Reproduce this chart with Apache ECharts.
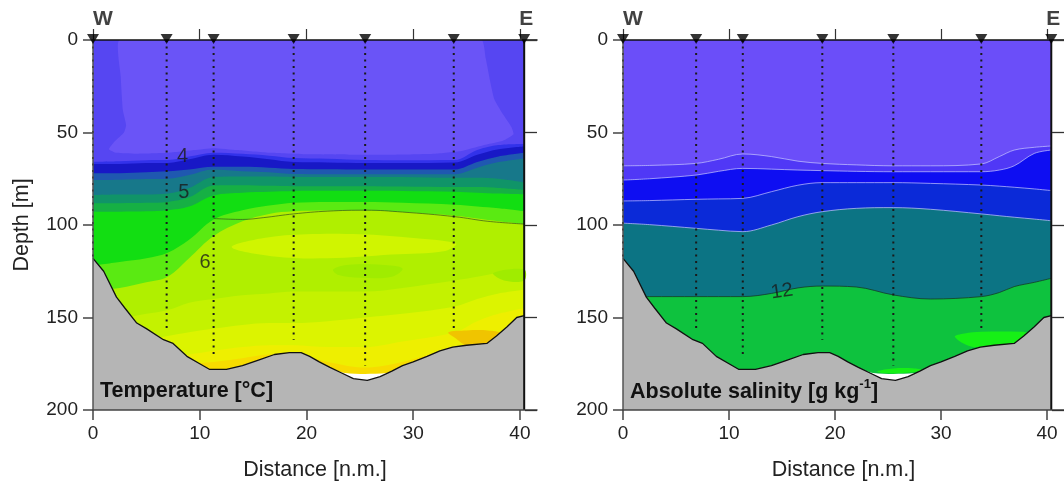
<!DOCTYPE html>
<html>
<head>
<meta charset="utf-8">
<script src="https://cdn.jsdelivr.net/npm/echarts@6/dist/echarts.min.js"></script>
<style>
  html, body { margin: 0; background: #fff; }
  #chart { width: 1064px; height: 486px; }
</style>
</head>
<body>
<div id="chart"></div>
<script>
// ---- data (distance in n.m., depth in m) ----
const stations = [0, 6.9, 11.3, 18.8, 25.5, 33.8, 40.4];
const stationLabels = ['W', '', '', '', '', '', 'E'];
const tempCastDepth = [118, 156, 170, 162, 176, 157, 200];
const salCastDepth = [118, 157, 170, 162, 176, 158, 200];

const bathyX = [0, 1, 2.2, 3, 4.1, 5, 6.6, 7.5, 8.8, 10, 10.9, 12.5, 14, 15.5, 17, 18.4, 19.5, 20.3, 21.2, 22.2, 23.3, 24.4, 25.7, 26.9, 28, 29, 30, 31.3, 32.5, 33.7, 35, 36.9, 37.8, 38.8, 39.7, 40.4];
const bathyD = [118, 125, 139, 145, 153, 156, 162, 164, 171, 175, 178, 178, 176, 173, 170, 169, 169, 171, 174, 177, 180, 183, 184, 182, 179, 176, 174, 171, 168, 166, 165, 164, 160, 155, 150, 149];

// bottom of the measured field (white gap above the seabed in the trough)
const floorX = [22.5, 23.6, 25.5, 27.5, 28.3];
const floorD = [178, 180, 180.5, 180, 179];

const surfaceX = [0, 40.4];
const surfaceD = [0, 0];

// temperature: isoline depths on a common distance grid, top to bottom
const tempX = [0, 2.5, 5, 7, 9, 11.3, 14, 16.5, 18.8, 22, 25.5, 29, 33.9, 36, 38, 40.4];
const tempEdges = [
  [65.8, 65.5, 65, 64.9, 63, 60.9, 61.5, 62.5, 63.8, 64.2, 64.9, 65, 64.9, 59.5, 56.8, 56.2],
  [67, 67, 66.5, 66.5, 64.5, 62, 63, 64.5, 66, 66.2, 66.5, 66.5, 66.2, 62, 59, 57.5],
  [72, 72, 71.5, 71, 70, 68.5, 68.5, 69, 69.7, 69.8, 70, 70, 70, 66, 63, 61],
  [75.7, 75.5, 75.2, 75, 73, 70, 71, 71.5, 72.4, 72.5, 72.6, 72.6, 72.5, 69, 66, 64],
  [83.8, 83.5, 83.5, 83, 80, 74, 73.8, 73.8, 74, 74, 74, 74, 74.5, 74.5, 75, 77],
  [88.3, 88.2, 88, 87.5, 85, 78.6, 78.5, 78.8, 79, 79, 79, 79.2, 79.5, 79.5, 80, 81],
  [92.8, 92.8, 92.6, 92, 90, 84, 82.5, 82, 81.6, 81.5, 81.5, 81.6, 82, 82.5, 83, 83.4],
  [122, 120, 118, 115, 108, 97, 92, 89.5, 88, 87.5, 87.5, 88, 89, 90, 91, 92.6],
  [135, 134, 131, 128, 118, 106, 98, 94, 92.6, 92.2, 92, 93, 95, 96.5, 98, 99.5],
  [150, 150, 148, 146, 142, 140, 138, 137, 136, 136, 136, 134, 130, 128, 126, 125],
  [163, 163, 162, 160, 158, 156, 154, 153, 153, 152, 150, 148, 144, 140, 137, 135],
  [172, 172, 172, 171, 170, 168, 166, 165, 165, 166, 166, 163, 158, 152, 148, 145],
  [178, 178, 177, 176, 175, 174, 172, 170, 170, 174, 177, 174, 166, 162, 158, 154]
];
const tempTopColor = '#5646f2';
const tempColors = ['#3232ea', '#1818c6', '#1f58b0', '#17788a', '#109468', '#16b044', '#12de12',
  '#5aea12', '#b0ef00', '#c4f200', '#dcf400', '#eeef00', '#f7dc00'];

// enclosed temperature patches
const tempBowl = [[2.5, 0], [20, 0], [36.4, 0], [36.8, 10], [37.2, 22], [37.6, 32], [38.4, 40], [39.2, 47], [39.4, 51], [38.4, 54.5], [36.5, 57], [34.5, 60], [32, 61.5], [28, 62], [24, 62], [20, 61.8], [16.5, 61], [13.5, 59.5], [11.3, 58.5], [9.5, 59.5], [7, 61], [4, 61.5], [2.2, 61], [1.5, 59], [2, 55], [2.9, 50], [3.1, 46], [2.8, 38], [2.6, 20]];
const tempYellowLens = [[13, 112], [16, 107], [20, 105], [25, 105], [30, 107], [34, 110], [33, 114], [28, 116], [22, 118], [17, 117]];
const tempLimeBlobA = [[22.5, 124], [24, 121.5], [27, 121.5], [29, 123.5], [28, 128], [25, 128.5], [23, 127]];
const tempLimeBlobB = [[37.5, 126], [40.4, 124], [40.4, 130], [38.5, 130]];
const tempWarmBlob = [[33.3, 158], [35, 157], [37, 157], [38.2, 158.5], [37.5, 162], [36.9, 164], [35, 165], [33.9, 161]];

const temp6X = [11.3, 14, 16, 18.8, 22, 25.6, 29, 33.9, 37, 40.4];
const temp6D = [96.5, 97, 96, 94, 92.5, 92, 93, 95.5, 98, 99.5];

const tempLabelX = [8.4, 8.5, 10.5];
const tempLabelD = [63.2, 82.2, 120];
const tempLabelText = ['4', '5', '6'];

// absolute salinity
const salX = [0, 2.5, 6.9, 9, 11.3, 14, 16.5, 18.8, 22, 25.5, 29, 33.8, 35.5, 36.9, 38.8, 40.4];
const salEdges = [
  [68, 67.8, 66.7, 64.5, 61.6, 63, 65.5, 66.7, 67.5, 68, 68, 67, 63, 59.5, 58, 57.3],
  [75.7, 75, 73, 71, 69.4, 69.8, 70.3, 70.6, 71, 71.2, 71.2, 71.2, 70.3, 68, 61.3, 59.5],
  [87, 86.8, 86.1, 85.9, 85.6, 82, 78.5, 77.1, 77.1, 77.1, 77.5, 78.4, 79, 79.6, 80.5, 81.4],
  [99, 99.8, 101.8, 102.8, 103.6, 100, 95.5, 92.8, 91, 90.6, 91.5, 94, 95, 95.8, 96.8, 97.7],
  [139, 138.7, 138.7, 138.7, 138.7, 137, 134, 133, 133.5, 137.8, 140, 138.7, 136.5, 133.3, 131, 128.8]
];
const salTopColor = '#6b4ef9';
const salColors = ['#5038f6', '#0e0ef2', '#0b2ad8', '#0c7484', '#0ec23e'];
const salLens = [[31.3, 160.4], [32.2, 158.6], [33.8, 157.7], [37.5, 157.7], [38.3, 158.6], [37, 163.5], [35.4, 165.4], [32.9, 165.8]];
const salFloorStrip = [[24, 179], [25.5, 177.5], [27.5, 177.5], [28.3, 178.5], [26.5, 180], [24.5, 180]];
const salLabelX = [15];
const salLabelD = [136];
const salLabelText = ['12'];

const distTicks = [0, 10, 20, 30, 40];

// ---- helpers ----
const font = 'Liberation Sans, Arial, sans-serif';
const pairs = (xs, ys) => xs.map((x, i) => [x, ys[i]]);

function band(p, xs, edge, color, line) {
  return {
    type: 'line', xAxisIndex: p, yAxisIndex: p,
    data: pairs(xs, edge), smooth: 0.35, symbol: 'none', silent: true,
    lineStyle: line || { width: 0 },
    areaStyle: { color: color, opacity: 1, origin: 'end' },
  };
}

function patch(p, pts, color, smooth) {
  return {
    type: 'custom', xAxisIndex: p, yAxisIndex: p, data: [[0, 0]], clip: true, silent: true,
    renderItem: (params, api) => ({
      type: 'polygon',
      shape: { points: pts.map(pt => api.coord(pt)), smooth: smooth === undefined ? 0.35 : smooth },
      style: { fill: color },
    }),
  };
}

function casts(p, depths) {
  return {
    type: 'custom', xAxisIndex: p, yAxisIndex: p, silent: true,
    data: pairs(stations, depths),
    renderItem: (params, api) => {
      const a = api.coord([api.value(0), 0]);
      const b = api.coord([api.value(0), api.value(1)]);
      const solid = api.value(1) >= 200;
      return {
        type: 'line',
        shape: { x1: a[0], y1: a[1], x2: b[0], y2: b[1] },
        style: solid
          ? { stroke: '#111', lineWidth: 2 }
          : { stroke: '#1a1a1a', lineWidth: 2, lineDash: [2, 4.5] },
      };
    },
  };
}

function markers(p) {
  return {
    type: 'scatter', xAxisIndex: p, yAxisIndex: p, silent: true, clip: false, z: 150,
    symbol: 'triangle', symbolRotate: 180, symbolSize: [12, 10], symbolOffset: [0, -1],
    itemStyle: { color: '#000' },
    data: stations.map((x, i) => ({
      value: [x, 0],
      label: {
        show: stationLabels[i] !== '', formatter: stationLabels[i], position: 'top', distance: 4,
        offset: [i === 0 ? 10 : 2, 0], fontFamily: font, fontSize: 21, fontWeight: 'bold', color: '#111',
      },
    })),
  };
}

function labels(p, xs, ds, texts, rotate) {
  return {
    type: 'scatter', xAxisIndex: p, yAxisIndex: p, silent: true, symbolSize: 1,
    itemStyle: { color: 'rgba(0,0,0,0)' },
    data: xs.map((x, i) => ({ value: [x, ds[i]], name: texts[i] })),
    label: {
      show: true, position: 'inside', formatter: '{b}', rotate: rotate || 0,
      fontFamily: font, fontSize: 20, color: '#1a1a1a',
    },
  };
}

function seabed(p) {
  return [
    {
      type: 'line', xAxisIndex: p, yAxisIndex: p, data: pairs(floorX, floorD), smooth: 0.3,
      symbol: 'none', silent: true, lineStyle: { width: 0 },
      areaStyle: { color: '#ffffff', opacity: 1, origin: 'end' },
    },
    {
      type: 'line', xAxisIndex: p, yAxisIndex: p, data: pairs(bathyX, bathyD),
      symbol: 'none', silent: true, lineStyle: { color: '#111', width: 1.3 },
      areaStyle: { color: '#b5b5b5', opacity: 1, origin: 'end' },
    },
  ];
}

// ---- series ----
const series = [];
// temperature panel
series.push(band(0, surfaceX, surfaceD, tempTopColor));
series.push(patch(0, tempBowl, '#6a54f7', 0.15));
tempEdges.forEach((edge, k) => series.push(band(0, tempX, edge, tempColors[k])));
series.push(patch(0, tempYellowLens, '#d0f500'));
series.push(patch(0, tempLimeBlobA, '#a0ec00'));
series.push(patch(0, tempLimeBlobB, '#a0ec00'));
series.push(patch(0, tempWarmBlob, '#f0c400'));
series.push({
  type: 'line', xAxisIndex: 0, yAxisIndex: 0, data: pairs(temp6X, temp6D), smooth: 0.4,
  symbol: 'none', silent: true, lineStyle: { color: 'rgba(40,70,30,0.7)', width: 0.9 },
});
series.push(...seabed(0));
series.push(casts(0, tempCastDepth));
series.push(markers(0));
series.push(labels(0, tempLabelX, tempLabelD, tempLabelText));

// salinity panel
series.push(band(1, surfaceX, surfaceD, salTopColor));
salEdges.forEach((edge, k) => series.push(band(1, salX, edge, salColors[k],
  { width: 1, color: k === 4 ? 'rgba(20,60,40,0.8)' : 'rgba(200,200,255,0.7)' })));
series.push(patch(1, salLens, '#16f016'));
series.push(patch(1, salFloorStrip, '#16f016'));
series.push(...seabed(1));
series.push(casts(1, salCastDepth));
series.push(markers(1));
series.push(labels(1, salLabelX, salLabelD, salLabelText, 8));

// draw strictly in the order pushed (line series default to a higher z than custom/scatter);
// station markers stay above the frame
series.forEach((s, i) => { if (s.z === undefined) s.z = i + 1; });

// ---- axes ----
function bottomAxis(p) {
  return {
    gridIndex: p, type: 'value', position: 'bottom', min: 0, max: 41.6, z: 100,
    axisLine: { show: true, onZero: false, lineStyle: { color: '#444', width: 1.5 } },
    axisTick: { show: true, length: 10, customValues: distTicks, lineStyle: { color: '#444', width: 1.5 } },
    axisLabel: { customValues: distTicks, fontFamily: font, fontSize: 19, color: '#222', margin: 14 },
    splitLine: { show: false },
    name: 'Distance [n.m.]', nameLocation: 'middle', nameGap: 49,
    nameTextStyle: { fontFamily: font, fontSize: 21.5, color: '#222' },
  };
}
function topAxis(p) {
  return {
    gridIndex: p, type: 'value', position: 'top', min: 0, max: 41.6, z: 100,
    axisLine: { show: true, onZero: false, lineStyle: { color: '#111', width: 1.5 } },
    axisTick: { show: true, length: 11, customValues: distTicks, lineStyle: { color: '#333', width: 1.2 } },
    axisLabel: { show: false },
    splitLine: { show: false },
  };
}
function leftAxis(p) {
  return {
    gridIndex: p, type: 'value', position: 'left', inverse: true, min: 0, max: 200, interval: 50, z: 100,
    axisLine: { show: true, onZero: false, lineStyle: { color: '#555', width: 1.5 } },
    axisTick: { show: true, length: 10, lineStyle: { color: '#444', width: 1.5 } },
    axisLabel: { fontFamily: font, fontSize: 19, color: '#222', margin: 15 },
    splitLine: { show: false },
    name: p === 0 ? 'Depth [m]' : '', nameLocation: 'middle', nameGap: 60,
    nameTextStyle: { fontFamily: font, fontSize: 21.5, color: '#222' },
  };
}
function rightAxis(p) {
  return {
    gridIndex: p, type: 'value', position: 'right', inverse: true, min: 0, max: 200, interval: 50, z: 100,
    axisLine: { show: false, onZero: false },
    axisTick: { show: true, inside: true, length: 12, lineStyle: { color: '#333', width: 1.3 } },
    axisLabel: { show: false },
    splitLine: { show: false },
  };
}

const option = {
  animation: false,
  backgroundColor: '#ffffff',
  grid: [
    { left: 93, top: 40, width: 444, height: 370 },
    { left: 623, top: 40, width: 444, height: 370 },
  ],
  xAxis: [bottomAxis(0), bottomAxis(1), topAxis(0), topAxis(1)],
  yAxis: [leftAxis(0), leftAxis(1), rightAxis(0), rightAxis(1)],
  series: series,
  graphic: [
    {
      type: 'text', left: 100, top: 380, z: 200,
      style: { text: 'Temperature [°C]', fontFamily: font, fontSize: 21.5, fontWeight: 'bold', fill: '#111' },
    },
    {
      type: 'text', left: 630, top: 378, z: 200,
      style: {
        text: '{b|Absolute salinity [g kg}{s|-1}{b|]}',
        fill: '#111',
        rich: {
          b: { fontFamily: font, fontSize: 21.5, fontWeight: 'bold', lineHeight: 25, verticalAlign: 'bottom' },
          s: { fontFamily: font, fontSize: 13, fontWeight: 'bold', lineHeight: 25, verticalAlign: 'top' },
        },
      },
    },
  ],
};

const myChart = echarts.init(document.getElementById('chart'));
myChart.setOption(option);
window.addEventListener('resize', () => {
  myChart.resize();
});
</script>
</body>
</html>
